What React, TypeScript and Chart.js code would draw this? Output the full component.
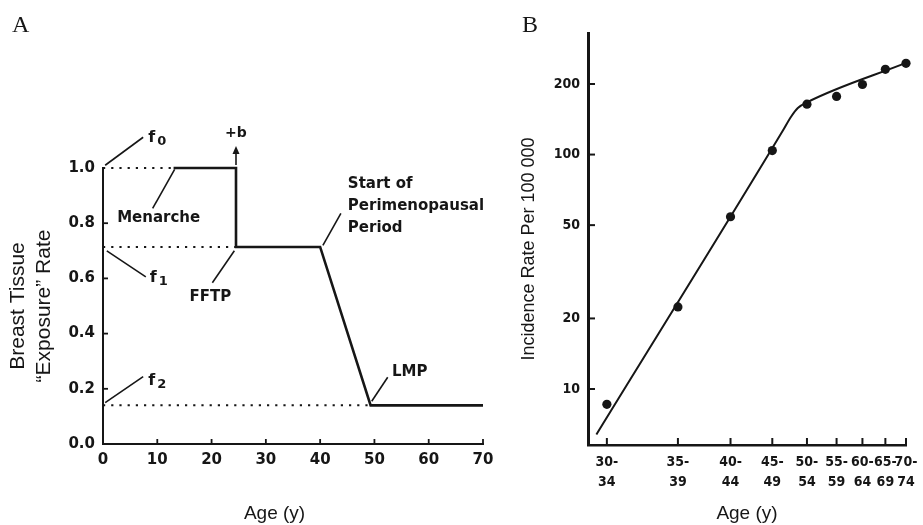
import React, { useEffect, useRef } from 'react';
import { Chart, registerables } from 'chart.js';

Chart.register(...registerables);

// ---------- Panel A: breast tissue "exposure" rate profile ----------
const profileAge = [13, 24.5, 24.5, 40, 49.3, 70];
const profileRate = [1.0, 1.0, 0.714, 0.714, 0.14, 0.14];
const f0Level = 1.0;
const f1Level = 0.714;
const f2Level = 0.14;
const menarcheAge = 13;
const fftpAge = 24.5;
const lmpAge = 49.3;
const aTicksX = [0, 10, 20, 30, 40, 50, 60, 70];
const aTicksY = [0, 0.2, 0.4, 0.6, 0.8, 1.0];

// ---------- Panel B: incidence rate per 100 000 ----------
const ageGroups = ['30-34', '35-39', '40-44', '45-49', '50-54', '55-59', '60-64', '65-69', '70-74'];
const ageGroupMid = [32, 37, 42, 47, 52, 57, 62, 67, 72];
const incidenceRate = [8.6, 22.4, 54.3, 104, 164, 177, 199, 231, 245];
const fitAge = [31.4, 48.4, 49.6, 50.6, 52, 72];
const fitRate = [6.4, 126, 145, 158, 167, 246];
const bTicksY = [10, 20, 50, 100, 200];
const AGE_ORIGIN = 20; // x axis is log(age - 20)

const INK = '#161616';
const SANS = "'Liberation Sans', Arial, sans-serif";
const BOLD = "'DejaVu Sans', sans-serif";
const COND = "'DejaVu Sans Condensed', 'DejaVu Sans', sans-serif";

const annotA = {
  id: 'annotA',
  afterDraw(chart: any) {
    const { ctx, chartArea } = chart;
    const x = chart.scales.x;
    const y = chart.scales.y;
    const P = (a: number, b: number) => [x.getPixelForValue(a), y.getPixelForValue(b)];
    ctx.save();
    ctx.strokeStyle = INK;
    ctx.fillStyle = INK;
    ctx.lineWidth = 1.8;
    const seg = (x1: number, y1: number, x2: number, y2: number) => {
      ctx.beginPath();
      ctx.moveTo(x1, y1);
      ctx.lineTo(x2, y2);
      ctx.stroke();
    };
    // inward ticks
    aTicksY.forEach((v) => {
      if (v === 0 || v === 1) return;
      const py = y.getPixelForValue(v);
      seg(chartArea.left, py, chartArea.left + 5, py);
    });
    aTicksX.forEach((v) => {
      if (v === 0) return;
      const px = x.getPixelForValue(v);
      seg(px, chartArea.bottom, px, chartArea.bottom - 5);
    });

    ctx.lineWidth = 1.6;
    const leader = (a: number, b: number, dx: number, dy: number) => {
      const [px, py] = P(a, b);
      seg(px, py, px + dx, py + dy);
      return [px, py];
    };
    const fLabel = (px: number, py: number, tx: number, ty: number, sub: string) => {
      ctx.textAlign = 'left';
      ctx.textBaseline = 'alphabetic';
      ctx.font = `bold 16px ${BOLD}`;
      ctx.fillText('f', px + tx, py + ty);
      ctx.font = `bold 13px ${BOLD}`;
      ctx.fillText(sub, px + tx + 9, py + ty + 3);
    };
    const label = (txt: string, px: number, py: number, align = 'center') => {
      ctx.font = `bold 15px ${BOLD}`;
      ctx.textAlign = align;
      ctx.textBaseline = 'middle';
      ctx.fillText(txt, px, py);
    };

    // f0
    let [ax, ay] = leader(0.4, f0Level + 0.01, 38, -28);
    fLabel(ax, ay, 43, -23, '0');
    // +b arrow
    [ax, ay] = P(fftpAge, f0Level);
    seg(ax, ay - 3, ax, ay - 16);
    ctx.beginPath();
    ctx.moveTo(ax, ay - 22);
    ctx.lineTo(ax - 3.5, ay - 14);
    ctx.lineTo(ax + 3.5, ay - 14);
    ctx.closePath();
    ctx.fill();
    ctx.font = `bold 14px ${BOLD}`;
    ctx.textAlign = 'center';
    ctx.textBaseline = 'alphabetic';
    ctx.fillText('+b', ax, ay - 31);
    // Menarche
    [ax, ay] = leader(menarcheAge + 0.2, f0Level - 0.005, -22, 39);
    label('Menarche', ax - 16, ay + 49);
    // f1
    [ax, ay] = leader(0.7, f1Level - 0.014, 39, 26);
    fLabel(ax, ay, 43, 31, '1');
    // FFTP
    [ax, ay] = leader(fftpAge - 0.3, f1Level - 0.014, -22, 32);
    label('FFTP', ax - 24, ay + 46);
    // Start of perimenopausal period
    [ax, ay] = leader(40.5, f1Level + 0.006, 18, -32);
    label('Start of', ax + 25, ay - 61, 'left');
    label('Perimenopausal', ax + 25, ay - 39, 'left');
    label('Period', ax + 25, ay - 17, 'left');
    // LMP
    [ax, ay] = leader(lmpAge + 0.2, f2Level + 0.015, 16, -24);
    label('LMP', ax + 38, ay - 29);
    // f2
    [ax, ay] = leader(0.4, f2Level + 0.01, 38, -26);
    fLabel(ax, ay, 43, -18, '2');

    // panel letter
    ctx.font = `24px 'Liberation Serif', 'DejaVu Serif', serif`;
    ctx.textAlign = 'left';
    ctx.textBaseline = 'alphabetic';
    ctx.fillText('A', 12, 32);
    ctx.restore();
  },
};

const annotB = {
  id: 'annotB',
  afterDraw(chart: any) {
    const { ctx, chartArea } = chart;
    const x = chart.scales.x;
    const y = chart.scales.y;
    ctx.save();
    ctx.strokeStyle = INK;
    ctx.fillStyle = INK;
    ctx.lineWidth = 2;
    bTicksY.forEach((v) => {
      const py = y.getPixelForValue(v);
      ctx.beginPath();
      ctx.moveTo(chartArea.left, py);
      ctx.lineTo(chartArea.left + 7, py);
      ctx.stroke();
    });
    ageGroupMid.forEach((a) => {
      const px = x.getPixelForValue(a - AGE_ORIGIN);
      ctx.beginPath();
      ctx.moveTo(px, chartArea.bottom);
      ctx.lineTo(px, chartArea.bottom - 7);
      ctx.stroke();
    });
    ctx.font = `24px 'Liberation Serif', 'DejaVu Serif', serif`;
    ctx.textAlign = 'left';
    ctx.textBaseline = 'alphabetic';
    ctx.fillText('B', 27, 32);
    ctx.restore();
  },
};

export default function App() {
  const refA = useRef<HTMLCanvasElement>(null);
  const refB = useRef<HTMLCanvasElement>(null);

  useEffect(() => {
    const dotted = (x1: number, x2: number, lvl: number) => ({
      data: [
        { x: x1, y: lvl },
        { x: x2, y: lvl },
      ],
      borderColor: INK,
      borderWidth: 2,
      borderDash: [2.2, 6],
      pointRadius: 0,
      clip: false,
    });

    const chartA = new Chart(refA.current as HTMLCanvasElement, {
      type: 'line',
      data: {
        datasets: [
          {
            data: profileAge.map((a, i) => ({ x: a, y: profileRate[i] })),
            borderColor: INK,
            borderWidth: 2.6,
            pointRadius: 0,
            borderJoinStyle: 'miter',
            clip: false,
          } as any,
          dotted(0, menarcheAge, f0Level),
          dotted(0, fftpAge, f1Level),
          dotted(0, lmpAge, f2Level),
        ],
      },
      options: {
        animation: false,
        responsive: false,
        devicePixelRatio: 1,
        events: [],
        layout: { padding: { left: 0, top: 168, right: 12, bottom: 0 }, autoPadding: false },
        plugins: { legend: { display: false }, tooltip: { enabled: false } },
        scales: {
          x: {
            type: 'linear',
            min: 0,
            max: 70,
            grid: { display: false, drawTicks: false },
            border: { display: true, width: 2, color: INK },
            ticks: {
              stepSize: 10,
              padding: 7,
              autoSkip: false,
              maxRotation: 0,
              color: INK,
              font: { family: BOLD, size: 15, weight: 'bold' },
              callback: (v: any) => String(v),
            },
            title: {
              display: true,
              text: 'Age (y)       ',
              color: INK,
              font: { family: SANS, size: 19, lineHeight: 1.2 },
              padding: { top: 0, bottom: 0 },
            },
            afterFit: (s: any) => {
              s.height = 81;
              s.paddingLeft = 0;
              s.paddingRight = 0;
            },
          },
          y: {
            type: 'linear',
            min: 0,
            max: 1,
            grid: { display: false, drawTicks: false },
            border: { display: true, width: 2, color: INK },
            ticks: {
              stepSize: 0.2,
              padding: 8,
              color: INK,
              font: { family: BOLD, size: 15, weight: 'bold' },
              callback: (v: any) => Number(v).toFixed(1),
            },
            title: {
              display: true,
              text: ['Breast Tissue', '\u201CExposure\u201D Rate'],
              color: INK,
              font: { family: SANS, size: 21, lineHeight: 1.24 },
              padding: { top: 5.5, bottom: 0 },
            },
            afterFit: (s: any) => {
              s.width = 103;
              s.paddingTop = 0;
              s.paddingBottom = 0;
            },
          },
        },
      } as any,
      plugins: [annotA as any],
    });

    const chartB = new Chart(refB.current as HTMLCanvasElement, {
      type: 'line',
      data: {
        datasets: [
          {
            data: fitAge.map((a, i) => ({ x: a - AGE_ORIGIN, y: fitRate[i] })),
            borderColor: INK,
            borderWidth: 2,
            pointRadius: 0,
            cubicInterpolationMode: 'monotone',
            clip: false,
          } as any,
          {
            data: ageGroupMid.map((a, i) => ({ x: a - AGE_ORIGIN, y: incidenceRate[i] })),
            showLine: false,
            pointRadius: 4.6,
            pointBackgroundColor: INK,
            pointBorderWidth: 0,
            borderColor: INK,
            clip: false,
          } as any,
        ],
      },
      options: {
        animation: false,
        responsive: false,
        devicePixelRatio: 1,
        events: [],
        layout: { padding: { left: 0, top: 33, right: 17, bottom: 0 }, autoPadding: false },
        plugins: { legend: { display: false }, tooltip: { enabled: false } },
        scales: {
          x: {
            type: 'logarithmic',
            min: 10.94,
            max: 52,
            afterBuildTicks: (s: any) => {
              s.ticks = ageGroupMid.map((a) => ({ value: a - AGE_ORIGIN }));
            },
            grid: { display: false, drawTicks: false },
            border: { display: true, width: 2.5, color: INK },
            ticks: {
              padding: 7,
              autoSkip: false,
              maxRotation: 0,
              minRotation: 0,
              color: INK,
              font: { family: COND, size: 14, weight: 'bold', lineHeight: 1.43 },
              callback: (_v: any, i: number) => {
                const [lo, hi] = ageGroups[i].split('-');
                return [lo + '-', hi];
              },
            },
            title: {
              display: true,
              text: 'Age (y)',
              color: INK,
              font: { family: SANS, size: 19, lineHeight: 1.2 },
              padding: { top: 0, bottom: 0 },
            },
            afterFit: (s: any) => {
              s.height = 80;
              s.paddingLeft = 0;
              s.paddingRight = 0;
            },
          },
          y: {
            type: 'logarithmic',
            min: 5.77,
            max: 330,
            afterBuildTicks: (s: any) => {
              s.ticks = bTicksY.map((v) => ({ value: v }));
            },
            grid: { display: false, drawTicks: false },
            border: { display: true, width: 3, color: INK },
            ticks: {
              padding: 8,
              color: INK,
              font: { family: COND, size: 14, weight: 'bold' },
              callback: (v: any) => String(v),
            },
            title: {
              display: true,
              text: 'Incidence Rate Per 100 000    ',
              color: INK,
              font: { family: SANS, size: 18, lineHeight: 1.2 },
              padding: { top: 23, bottom: 0 },
            },
            afterFit: (s: any) => {
              s.width = 93;
              s.paddingTop = 0;
              s.paddingBottom = 0;
            },
          },
        },
      } as any,
      plugins: [annotB as any],
    });

    return () => {
      chartA.destroy();
      chartB.destroy();
    };
  }, []);

  return (
    <div style={{ position: 'fixed', left: 0, top: 0, width: 923, height: 525, background: '#fff' }}>
      <canvas
        ref={refA}
        width={495}
        height={525}
        style={{ position: 'absolute', left: 0, top: 0, width: 495, height: 525 }}
      />
      <canvas
        ref={refB}
        width={428}
        height={525}
        style={{ position: 'absolute', left: 495, top: 0, width: 428, height: 525 }}
      />
    </div>
  );
}
